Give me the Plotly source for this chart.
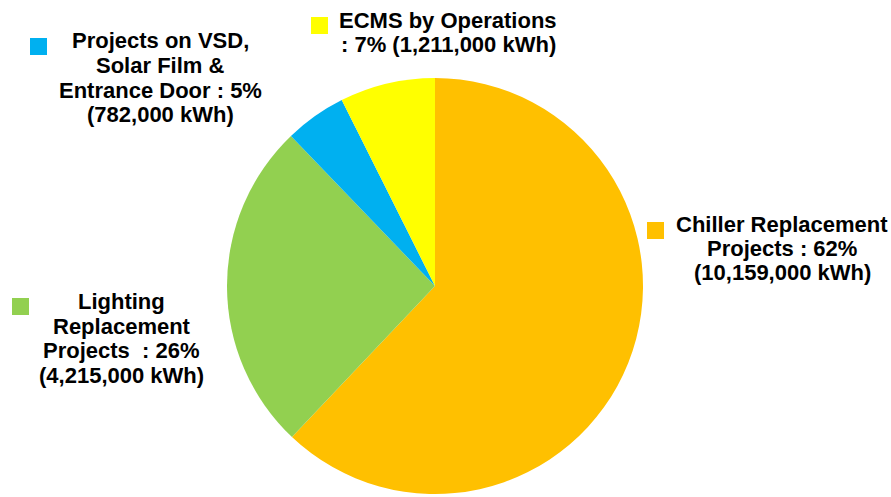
import plotly.graph_objects as go

W, H = 891, 497

categories = ["Chiller Replacement Projects", "Lighting Replacement Projects",
              "Projects on VSD, Solar Film & Entrance Door", "ECMS by Operations"]
energy_kwh = [10159000, 4215000, 782000, 1211000]
percent_labels = ["62%", "26%", "5%", "7%"]
colors = ["#FFC000", "#92D050", "#00B0F0", "#FFFF00"]

label_lines = [
    ["Chiller Replacement", "Projects : {p}", "(10,159,000 kWh)"],
    ["Lighting", "Replacement", "Projects  : {p}", "(4,215,000 kWh)"],
    ["Projects on VSD,", "Solar Film &", "Entrance Door : {p}", "(782,000 kWh)"],
    ["ECMS by Operations", ": {p} (1,211,000 kWh)"],
]

def px(x):
    return x / W

def py(y):
    return 1 - y / H

cx, cy, r = 435, 286, 208

fig = go.Figure(go.Pie(
    labels=categories,
    values=energy_kwh,
    sort=False,
    direction="clockwise",
    rotation=0,
    marker=dict(colors=colors, line=dict(width=0)),
    textinfo="none",
    hoverinfo="label+value+percent",
    showlegend=False,
    domain=dict(x=[px(cx - r), px(cx + r)], y=[py(cy + r), py(cy - r)]),
))

# label block: center x, first line y, line step (px)
label_pos = [(782, 225, 23.5), (122, 301.5, 24.5), (160, 40.5, 24.8), (448, 21, 23)]
square_pos = [(647, 222), (12, 298), (30, 38), (311, 17)]
sq = 17

annotations = []
shapes = []
for i in range(len(categories)):
    lx, ly, step = label_pos[i]
    for j, line in enumerate(label_lines[i]):
        annotations.append(dict(
            x=px(lx), y=py(ly + j * step), xref="paper", yref="paper",
            xanchor="center", yanchor="middle", align="center",
            showarrow=False,
            text="<b>" + line.format(p=percent_labels[i]) + "</b>",
            font=dict(family="Liberation Sans, Arial", size=22, color="#000000"),
        ))
    sx, sy = square_pos[i]
    shapes.append(dict(
        type="rect", xref="paper", yref="paper",
        x0=px(sx), x1=px(sx + sq), y0=py(sy + sq), y1=py(sy),
        fillcolor=colors[i], line=dict(width=0),
    ))

fig.update_layout(
    width=W, height=H,
    margin=dict(l=0, r=0, t=0, b=0),
    paper_bgcolor="white", plot_bgcolor="white",
    annotations=annotations, shapes=shapes,
)

fig.write_html("out.html")
